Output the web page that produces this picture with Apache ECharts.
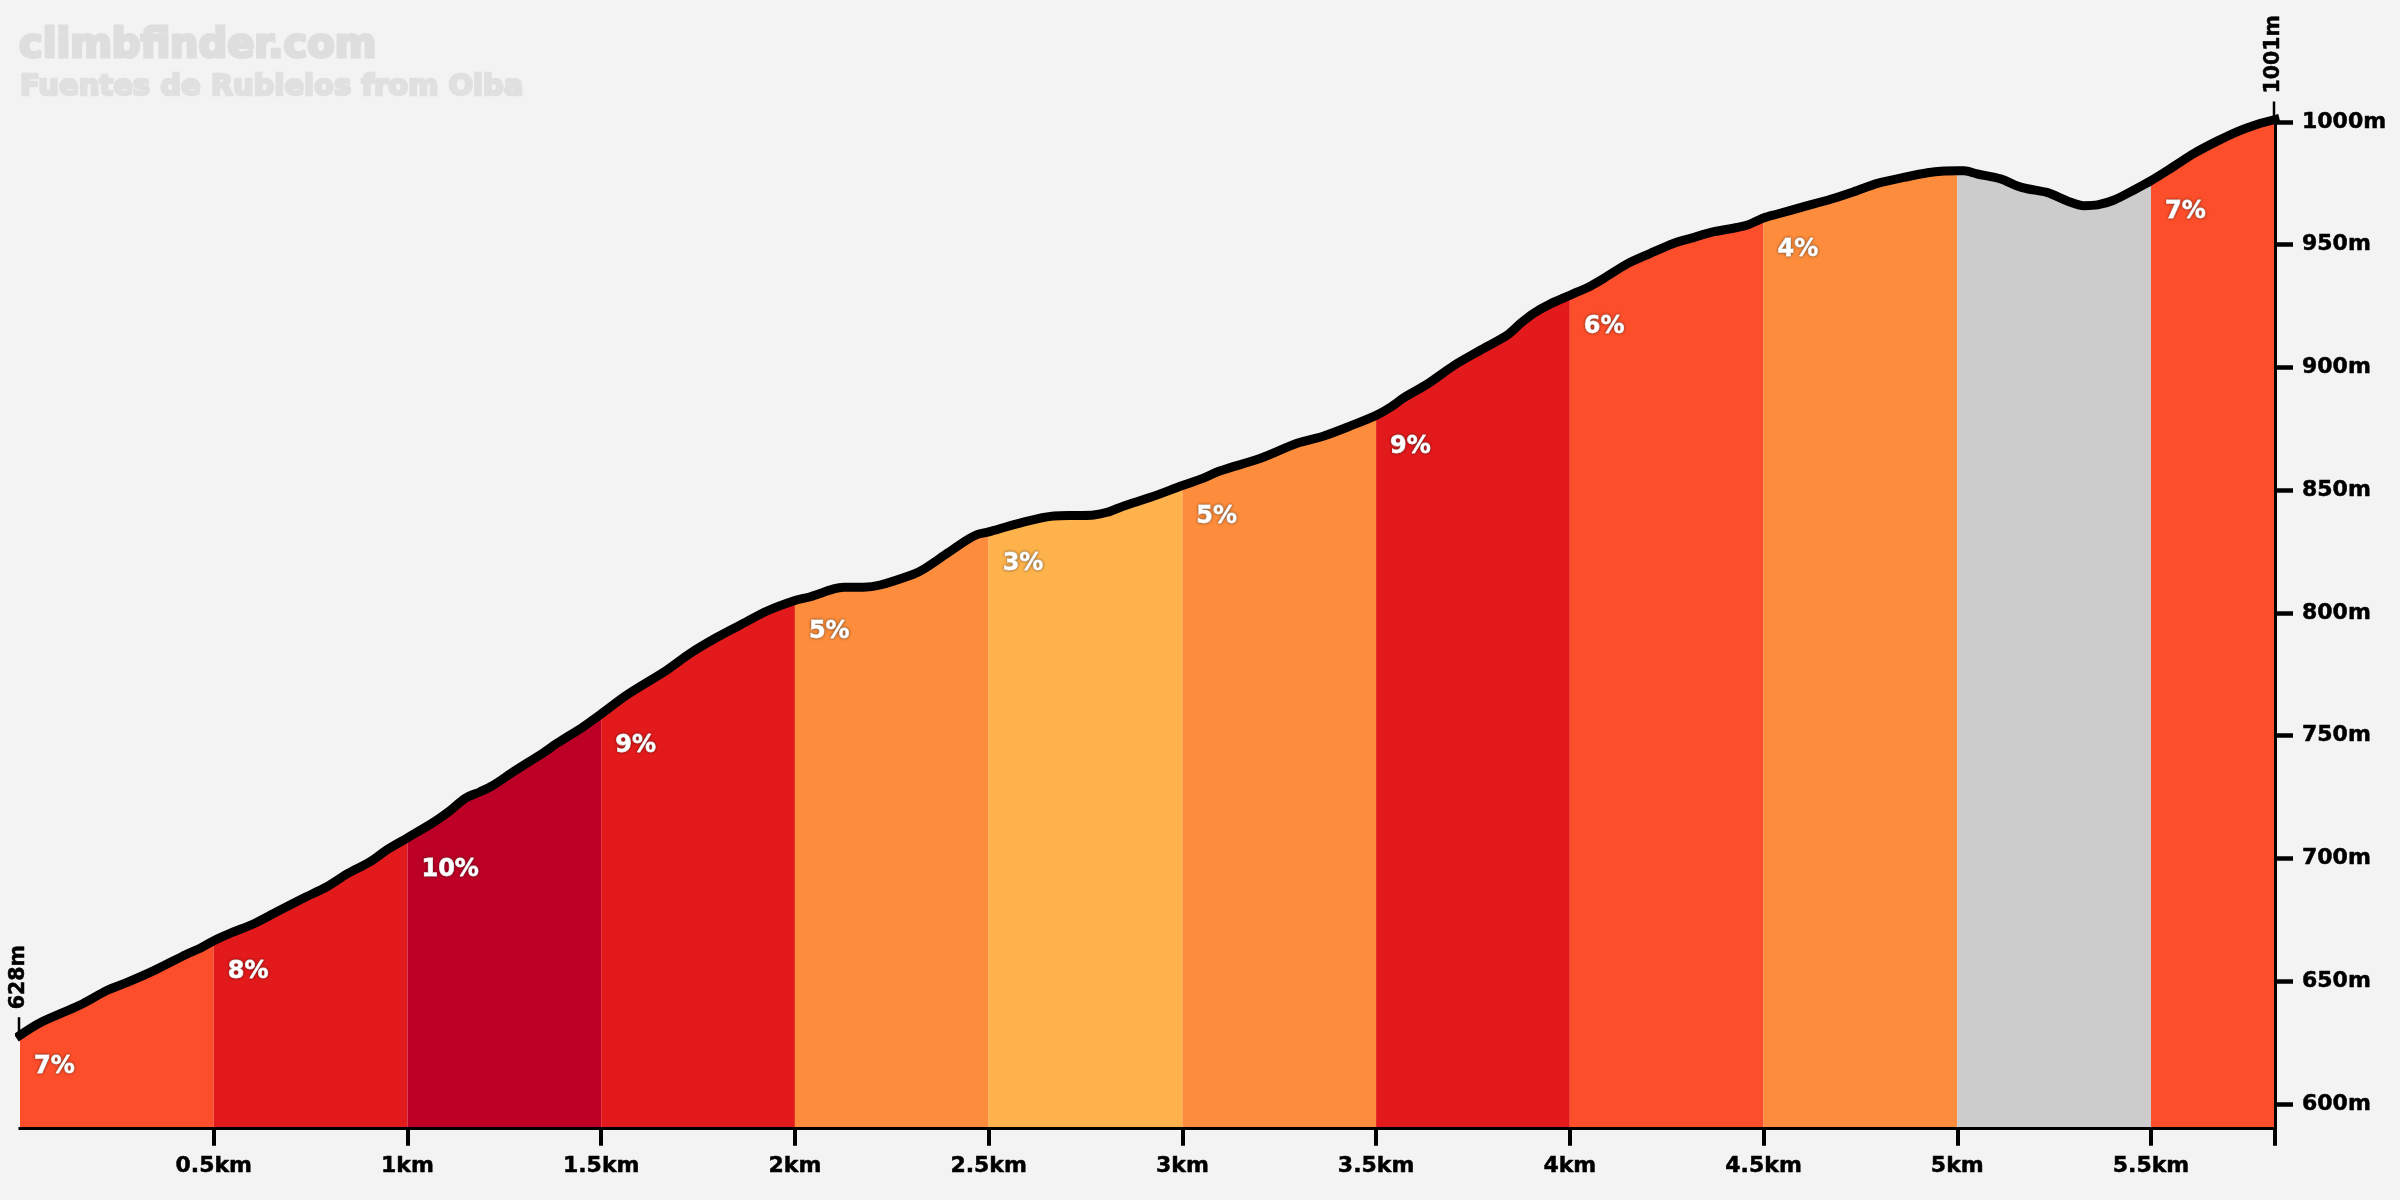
<!DOCTYPE html>
<html>
<head>
<meta charset="utf-8">
<style>html,body{margin:0;padding:0;background:#f3f3f3}#c{width:2400px;height:1200px}</style>
<script src="https://cdn.jsdelivr.net/npm/echarts@6/dist/echarts.min.js"></script>
</head>
<body>
<div id="c"></div>
<script>
const titleMain = 'climbfinder.com';
const titleSub = 'Fuentes de Rubielos from Olba';
const distanceKm = [0,.052,.155,.224,.275,.344,.43,.465,.5,.542,.602,.663,.731,.792,.844,.904,.947,1,1.067,1.11,1.149,1.188,1.222,1.274,1.351,1.386,1.454,1.5,1.566,1.67,1.73,1.799,1.859,1.928,2,2.04,2.1,2.126,2.177,2.22,2.306,2.332,2.393,2.444,2.47,2.5,2.573,2.668,2.728,2.771,2.806,2.849,2.918,3,3.047,3.098,3.202,3.296,3.365,3.434,3.5,3.537,3.572,3.632,3.701,3.77,3.839,3.873,3.907,3.95,4,4.054,4.088,4.148,4.208,4.269,4.312,4.372,4.432,4.458,4.5,4.536,4.604,4.673,4.733,4.794,4.862,4.923,4.966,5,5.018,5.052,5.112,5.155,5.181,5.233,5.284,5.327,5.362,5.405,5.456,5.5,5.551,5.611,5.672,5.723,5.775,5.82];
const elevationM = [628,633.1,640.3,646.2,649.4,654.2,661,663.4,666.5,669.5,673.3,678.3,683.8,688.5,693.7,698.7,703.5,708.4,714.7,719.5,724.5,727.2,729.9,735.4,743.1,746.9,753.7,758.9,766.6,776.8,783.6,790.1,795.1,800.8,805.1,806.6,809.8,810.5,810.5,811.4,815.8,817.8,824.3,829.7,831.9,833,836.3,839.5,839.7,839.9,841,843.6,847.1,851.9,854.5,857.9,863,869.1,872.1,876.2,880.5,883.8,887.7,893.2,900.8,907.1,913.2,918,922.1,925.9,929.4,933.2,936.3,942.2,946.5,950.6,952.6,955.3,957,958,960.9,962.5,965.5,968.5,971.6,975,977.4,979.3,980,980.1,980.1,978.8,976.8,973.9,972.8,971.2,967.8,965.9,966.2,968.2,972.3,976.1,981.1,987.2,992.3,996.1,999.1,1001];
const sectionStartKm = [0,.5,1,1.5,2,2.5,3,3.5,4,4.5,5,5.5];
const sectionEndKm = [.5,1,1.5,2,2.5,3,3.5,4,4.5,5,5.5,5.82];
const sectionGrade = ['7%','8%','10%','9%','5%','3%','5%','9%','6%','4%','','7%'];
const sectionColor = ['#fc4e2a','#e31a1c','#bd0026','#e31a1c','#fd8d3c','#feb24c','#fd8d3c','#e31a1c','#fc4e2a','#fd8d3c','#cccccc','#fc4e2a'];
const xTickValues = [.5,1,1.5,2,2.5,3,3.5,4,4.5,5,5.5,5.82];
const xLabelValues = [.5,1,1.5,2,2.5,3,3.5,4,4.5,5,5.5];
const yTickValues = [600,650,700,750,800,850,900,950,1000];
const endLabels = [[0,628,'628m'],[5.82,1001,'1001m']];

const FONT = '"DejaVu Sans"';
const points = distanceKm.map((k,i)=>[k,elevationM[i]]);
const elevAt = k => points[distanceKm.indexOf(k)][1];

const areaSeries = sectionStartKm.map((s,i)=>({
  type:'line', silent:true, symbol:'none', z:2,
  data: points.filter(p=>p[0]>=s && p[0]<=sectionEndKm[i]),
  lineStyle:{width:0}, areaStyle:{color:sectionColor[i],opacity:1}
}));

const strokeSeries = {
  type:'line', silent:true, symbol:'none', z:5, smooth:0.3, clip:false,
  data:points, lineStyle:{color:'#000',width:9,cap:'square',join:'round'}
};

const gradeSeries = {
  type:'custom', silent:true, z:6, clip:false,
  data: sectionStartKm.map((s,i)=>[s,elevAt(s),sectionGrade[i]]),
  renderItem(params,api){
    const c = api.coord([api.value(0),api.value(1)]);
    return {type:'text', style:{
      text:sectionGrade[params.dataIndex], x:c[0]+14, y:c[1]+31.5,
      align:'left', verticalAlign:'middle', fill:'#fff',
      font:'bold 24px '+FONT, stroke:'#fff', lineWidth:0.8,
      textShadowColor:'rgba(0,0,0,0.45)', textShadowBlur:3
    }};
  }
};

const endSeries = {
  type:'custom', silent:true, z:4, clip:false,
  data:endLabels,
  renderItem(params,api){
    const c = api.coord([api.value(0),api.value(1)]);
    const t = endLabels[params.dataIndex][2];
    return {type:'group', children:[
      {type:'line', shape:{x1:c[0]-1,y1:c[1]-18,x2:c[0]-1,y2:c[1]}, style:{stroke:'#000',lineWidth:2.5}},
      {type:'text', x:c[0]-1, y:c[1]-26, rotation:Math.PI/2,
       style:{text:t,x:0,y:0,align:'left',verticalAlign:'middle',fill:'#000',stroke:'#000',lineWidth:0.5,font:'bold 20.5px '+FONT}}
    ]};
  }
};

const axisText = {color:'#000',fontFamily:FONT,fontWeight:'bold',fontSize:22,textBorderColor:'#000',textBorderWidth:0.5};

const chart = echarts.init(document.getElementById('c'),null,{renderer:'canvas',width:2400,height:1200});
chart.setOption({
  animation:false,
  backgroundColor:'#f3f3f3',
  title:[
    {text:titleMain,left:19,top:27,padding:0,textStyle:{fontFamily:FONT,fontWeight:'bold',fontSize:40,color:'#dedede',textBorderColor:'#dedede',textBorderWidth:3}},
    {text:titleSub,left:20,top:73,padding:0,textStyle:{fontFamily:FONT,fontWeight:'bold',fontSize:29,color:'#e0e0e0',textBorderColor:'#e0e0e0',textBorderWidth:2.5}}
  ],
  grid:{left:20,right:125,top:119.5,bottom:72.2,containLabel:false},
  xAxis:{
    type:'value',min:0,max:5.82,splitLine:{show:false},z:8,
    axisLine:{show:true,onZero:false,lineStyle:{color:'#000',width:3,cap:'square'}},
    axisTick:{show:true,length:18,customValues:xTickValues,lineStyle:{color:'#000',width:4}},
    axisLabel:{...axisText,customValues:xLabelValues,formatter:v=>v+'km',margin:27}
  },
  yAxis:{
    type:'value',position:'right',min:590.3,max:1001,splitLine:{show:false},z:8,
    axisLine:{show:true,onZero:false,lineStyle:{color:'#000',width:3}},
    axisTick:{show:true,length:18,customValues:yTickValues,lineStyle:{color:'#000',width:4.5}},
    axisLabel:{...axisText,customValues:yTickValues,formatter:v=>v+'m',margin:27,padding:[0,0,2,0]}
  },
  series:[...areaSeries,endSeries,strokeSeries,gradeSeries]
});
</script>
</body>
</html>
